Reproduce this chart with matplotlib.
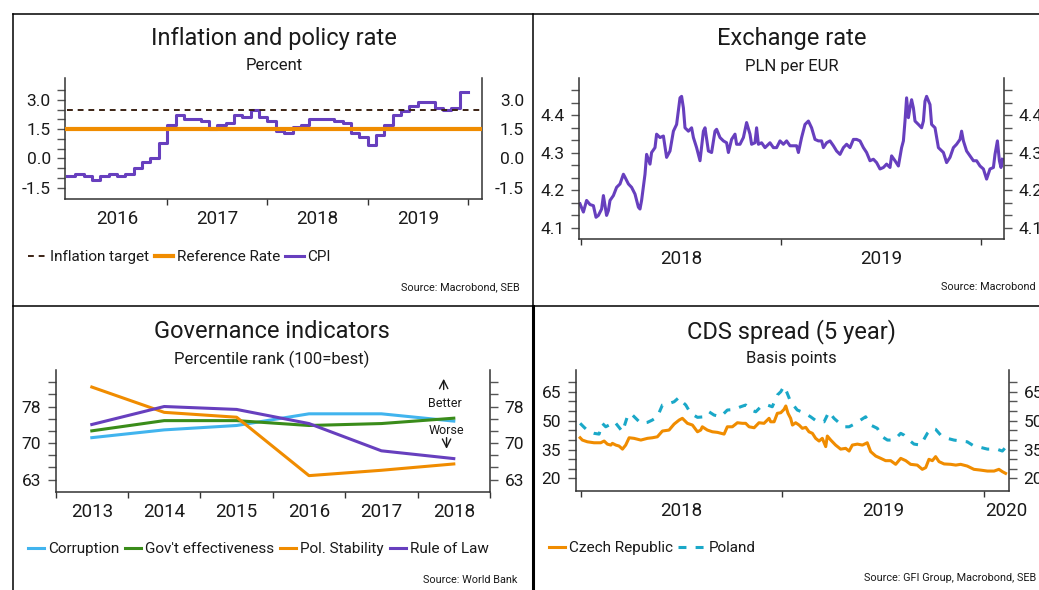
import numpy as np
import matplotlib
matplotlib.use('Agg')
import matplotlib.pyplot as plt
from matplotlib.lines import Line2D
from matplotlib.ticker import FixedLocator, FixedFormatter, NullFormatter

plt.rcParams['font.family'] = ['Roboto', 'DejaVu Sans']

# ---- data ----------------------------------------------------------------
# Inflation (monthly CPI y/y, Jan 2016 - Dec 2019)
cpi = [-0.9, -0.8, -0.9, -1.1, -0.9, -0.8, -0.9, -0.8, -0.5, -0.2, 0.0, 0.8,
       1.7, 2.2, 2.0, 2.0, 1.9, 1.5, 1.7, 1.8, 2.2, 2.1, 2.5, 2.1,
       1.9, 1.4, 1.3, 1.6, 1.7, 2.0, 2.0, 2.0, 1.9, 1.8, 1.3, 1.1,
       0.7, 1.2, 1.7, 2.2, 2.4, 2.7, 2.9, 2.9, 2.6, 2.5, 2.6, 3.4]
policy_x = [2016.0, 2020.12]
inflation_target = [2.5, 2.5]
reference_rate = [1.5, 1.5]

# EUR/PLN
fx_time = [2017.995, 2018.012, 2018.028, 2018.045, 2018.062, 2018.075, 2018.087, 2018.103, 2018.112, 2018.128,
           2018.137, 2018.145, 2018.162, 2018.178, 2018.195, 2018.212, 2018.220, 2018.237, 2018.253, 2018.270,
           2018.287, 2018.295, 2018.303, 2018.320, 2018.328, 2018.345, 2018.353, 2018.370, 2018.378, 2018.395,
           2018.412, 2018.428, 2018.445, 2018.462, 2018.478, 2018.495, 2018.503, 2018.512, 2018.520, 2018.537,
           2018.553, 2018.562, 2018.578, 2018.595, 2018.612, 2018.620, 2018.637, 2018.653, 2018.670, 2018.678,
           2018.695, 2018.712, 2018.728, 2018.737, 2018.753, 2018.770, 2018.778, 2018.795, 2018.812, 2018.828,
           2018.845, 2018.853, 2018.870, 2018.878, 2018.887, 2018.903, 2018.920, 2018.945, 2018.962, 2018.978,
           2018.995, 2019.012, 2019.028, 2019.045, 2019.062, 2019.078, 2019.087, 2019.103, 2019.120, 2019.137,
           2019.153, 2019.170, 2019.187, 2019.203, 2019.212, 2019.228, 2019.245, 2019.262, 2019.278, 2019.295,
           2019.312, 2019.328, 2019.345, 2019.362, 2019.378, 2019.395, 2019.412, 2019.428, 2019.445, 2019.462,
           2019.478, 2019.495, 2019.512, 2019.528, 2019.545, 2019.553, 2019.570, 2019.587, 2019.603, 2019.612,
           2019.620, 2019.628, 2019.637, 2019.645, 2019.653, 2019.662, 2019.670, 2019.687, 2019.703, 2019.712,
           2019.720, 2019.728, 2019.745, 2019.753, 2019.770, 2019.787, 2019.812, 2019.828, 2019.845, 2019.862,
           2019.878, 2019.895, 2019.903, 2019.912, 2019.928, 2019.945, 2019.962, 2019.978, 2019.995, 2020.012,
           2020.028, 2020.045, 2020.062, 2020.070, 2020.082, 2020.092, 2020.100, 2020.107]
fx_rate = [4.164, 4.142, 4.173, 4.162, 4.159, 4.128, 4.133, 4.150, 4.186, 4.133,
           4.146, 4.173, 4.186, 4.208, 4.217, 4.243, 4.235, 4.217, 4.208, 4.190,
           4.155, 4.150, 4.173, 4.243, 4.296, 4.270, 4.301, 4.314, 4.350, 4.341,
           4.345, 4.288, 4.305, 4.358, 4.376, 4.447, 4.451, 4.420, 4.367, 4.358,
           4.367, 4.341, 4.314, 4.279, 4.358, 4.367, 4.305, 4.301, 4.358, 4.363,
           4.341, 4.332, 4.327, 4.301, 4.336, 4.350, 4.323, 4.323, 4.341, 4.381,
           4.350, 4.323, 4.327, 4.367, 4.323, 4.327, 4.314, 4.327, 4.314, 4.314,
           4.332, 4.323, 4.332, 4.319, 4.319, 4.319, 4.301, 4.341, 4.376, 4.385,
           4.367, 4.336, 4.332, 4.332, 4.314, 4.327, 4.332, 4.319, 4.305, 4.296,
           4.314, 4.323, 4.314, 4.336, 4.336, 4.332, 4.314, 4.301, 4.279, 4.283,
           4.274, 4.257, 4.261, 4.270, 4.261, 4.292, 4.279, 4.265, 4.314, 4.332,
           4.385, 4.447, 4.394, 4.420, 4.442, 4.420, 4.385, 4.376, 4.367, 4.385,
           4.438, 4.451, 4.429, 4.376, 4.367, 4.314, 4.301, 4.274, 4.288, 4.314,
           4.323, 4.336, 4.358, 4.332, 4.305, 4.292, 4.279, 4.279, 4.265, 4.257,
           4.230, 4.257, 4.261, 4.296, 4.332, 4.279, 4.261, 4.283]

# Governance indicators, percentile rank
gov_years = ['2013', '2014', '2015', '2016', '2017', '2018']
corruption = [71.1, 72.7, 73.6, 76.0, 76.0, 74.5]
gov_effectiveness = [72.5, 74.6, 74.6, 73.6, 74.0, 75.1]
pol_stability = [81.5, 76.3, 75.3, 63.3, 64.4, 65.7]
rule_of_law = [73.8, 77.5, 76.9, 74.0, 68.4, 66.8]

# CDS spreads, bp
czech_time = [2017.997, 2018.008, 2018.033, 2018.066, 2018.099, 2018.116, 2018.132, 2018.149, 2018.157, 2018.174,
              2018.190, 2018.207, 2018.223, 2018.240, 2018.264, 2018.298, 2018.331, 2018.355, 2018.380, 2018.405,
              2018.438, 2018.463, 2018.488, 2018.504, 2018.529, 2018.554, 2018.579, 2018.595, 2018.603, 2018.628,
              2018.653, 2018.678, 2018.711, 2018.727, 2018.752, 2018.777, 2018.802, 2018.818, 2018.835, 2018.860,
              2018.884, 2018.909, 2018.934, 2018.942, 2018.959, 2018.975, 2018.992, 2019.008, 2019.017, 2019.028,
              2019.041, 2019.050, 2019.066, 2019.083, 2019.099, 2019.116, 2019.132, 2019.149, 2019.165, 2019.182,
              2019.198, 2019.215, 2019.223, 2019.240, 2019.264, 2019.289, 2019.314, 2019.331, 2019.347, 2019.372,
              2019.397, 2019.421, 2019.438, 2019.463, 2019.488, 2019.512, 2019.537, 2019.562, 2019.587, 2019.612,
              2019.636, 2019.669, 2019.694, 2019.711, 2019.727, 2019.744, 2019.760, 2019.777, 2019.802, 2019.835,
              2019.860, 2019.884, 2019.917, 2019.950, 2019.983, 2020.017, 2020.050, 2020.074, 2020.091, 2020.107]
czech = [41.1, 39.9, 39.0, 38.5, 38.5, 39.4, 37.8, 37.3, 38.2, 37.3,
         36.8, 35.2, 37.3, 41.1, 40.8, 39.9, 40.8, 41.1, 41.6, 44.6,
         45.1, 48.2, 50.3, 51.2, 48.6, 47.7, 44.2, 45.1, 46.8, 45.1,
         44.2, 43.9, 43.0, 46.8, 46.8, 48.9, 48.6, 48.6, 46.8, 46.3,
         48.9, 48.6, 51.2, 49.4, 49.4, 53.8, 54.1, 55.8, 57.6, 53.8,
         51.2, 47.7, 48.9, 47.7, 46.0, 46.5, 44.2, 43.4, 40.8, 39.4,
         40.8, 36.5, 42.0, 39.9, 37.3, 35.2, 35.6, 34.2, 37.3, 37.8,
         37.3, 38.5, 33.9, 31.6, 30.4, 29.2, 29.2, 27.3, 30.4, 29.2,
         27.3, 26.9, 24.7, 25.6, 29.9, 29.2, 31.3, 28.7, 27.5, 27.3,
         26.9, 27.3, 26.4, 24.7, 24.3, 23.8, 23.8, 24.7, 23.5, 22.6]
poland_time = [2017.997, 2018.017, 2018.041, 2018.066, 2018.091, 2018.107, 2018.124, 2018.140, 2018.157, 2018.174,
               2018.190, 2018.207, 2018.231, 2018.248, 2018.273, 2018.298, 2018.331, 2018.355, 2018.380, 2018.405,
               2018.438, 2018.463, 2018.488, 2018.504, 2018.521, 2018.545, 2018.579, 2018.612, 2018.636, 2018.661,
               2018.694, 2018.727, 2018.760, 2018.793, 2018.818, 2018.843, 2018.868, 2018.893, 2018.926, 2018.950,
               2018.975, 2018.992, 2019.008, 2019.021, 2019.041, 2019.074, 2019.107, 2019.140, 2019.174, 2019.207,
               2019.231, 2019.256, 2019.281, 2019.306, 2019.331, 2019.364, 2019.388, 2019.413, 2019.438, 2019.471,
               2019.496, 2019.521, 2019.554, 2019.587, 2019.603, 2019.628, 2019.653, 2019.686, 2019.719, 2019.744,
               2019.760, 2019.785, 2019.818, 2019.851, 2019.884, 2019.917, 2019.950, 2019.983, 2020.017, 2020.041,
               2020.066, 2020.091, 2020.107]
poland = [48.6, 46.5, 44.2, 43.4, 43.0, 48.6, 46.8, 47.7, 46.8, 48.6,
          46.5, 44.2, 52.0, 53.8, 51.2, 48.6, 49.1, 50.3, 52.0, 58.1,
          58.9, 59.8, 62.1, 59.8, 58.1, 53.8, 51.7, 52.0, 54.6, 52.9,
          52.0, 55.5, 55.8, 57.2, 58.1, 55.5, 54.6, 57.2, 58.1, 57.2,
          63.3, 65.0, 67.9, 65.0, 59.8, 55.5, 54.1, 52.0, 49.4, 49.4,
          54.6, 51.2, 48.9, 46.8, 46.8, 48.6, 50.3, 52.0, 47.7, 46.0,
          41.6, 39.9, 39.9, 43.4, 42.5, 39.9, 37.8, 37.3, 43.4, 46.0,
          45.5, 42.5, 40.8, 39.9, 39.4, 39.0, 36.8, 36.1, 35.2, 35.2,
          35.1, 34.2, 36.1]

# ---- style ---------------------------------------------------------------
PURPLE = '#673fbe'
ORANGE = '#f08c00'
BROWN = '#3b2314'
BLUE = '#41b4ee'
GREEN = '#3a8c1a'
CYAN = '#1aa8c8'
TXT = '#1a1a1a'
SPINE = '#333333'
TICK = '#555555'
LEG = 11

W, H = 1039, 590
fig = plt.figure(figsize=(W / 100, H / 100), dpi=100)


def fx(x):
    return x / W


def fy(y):
    return 1 - y / H


def box(x0, y0, x1, y1):
    return fig.add_axes([fx(x0), fy(y1), (x1 - x0) / W, (y1 - y0) / H])


def frame(ax):
    ax.spines['top'].set_visible(False)
    for s in ('left', 'right', 'bottom'):
        ax.spines[s].set_color(SPINE)
        ax.spines[s].set_linewidth(1.1)


def y_axis(ax, lim, major, labels, minor, right_labels=True):
    ax.set_ylim(*lim)
    ax.yaxis.set_major_locator(FixedLocator(major))
    ax.yaxis.set_major_formatter(FixedFormatter(labels))
    ax.yaxis.set_minor_locator(FixedLocator(minor))
    ax.tick_params(axis='y', which='both', left=True, right=True, labelleft=True,
                   labelright=right_labels, direction='out', length=6, width=1,
                   color=TICK, pad=4.5, labelsize=12.5, labelcolor=TXT)


def x_axis(ax, lim, major, mid, labels):
    ax.set_xlim(*lim)
    ax.xaxis.set_major_locator(FixedLocator(major))
    ax.xaxis.set_major_formatter(NullFormatter())
    ax.xaxis.set_minor_locator(FixedLocator(mid))
    ax.xaxis.set_minor_formatter(FixedFormatter(labels))
    ax.tick_params(axis='x', which='major', direction='out', length=4.5, width=1, color=SPINE)
    ax.tick_params(axis='x', which='minor', length=0, pad=8, labelsize=13.5, labelcolor=TXT)


def heading(x, y_title, y_sub, title, sub):
    fig.text(fx(x), fy(y_title), title, ha='center', va='center', fontsize=17, color=TXT)
    fig.text(fx(x), fy(y_sub), sub, ha='center', va='center', fontsize=12, color=TXT)


def source(x, y, text):
    fig.text(fx(x), fy(y), text, ha='right', va='center', fontsize=7.8, color=TXT)


# ---- panel borders -------------------------------------------------------
for (x0, y0, x1, y1, lw) in [(13, 14, 1039, 14, 1.1), (13, 14, 13, 590, 1.1),
                             (13, 305.7, 1039, 305.7, 1.1), (533.3, 14, 533.3, 305.7, 1.1),
                             (532.5, 305.7, 532.5, 590, 2.2)]:
    fig.add_artist(Line2D([fx(x0), fx(x1)], [fy(y0), fy(y1)], color='black', lw=lw))

# ---- inflation and policy rate -------------------------------------------
ax1 = box(65.4, 78.3, 481.7, 199.3)
frame(ax1)
cpi_x = 2016 + np.arange(len(cpi) + 1) / 12
ax1.plot(cpi_x, cpi + [cpi[-1]], drawstyle='steps-post', color=PURPLE, lw=2.2, zorder=2, label='CPI')
ax1.plot(policy_x, inflation_target, color=BROWN, lw=1.4, dashes=(3, 2.5), zorder=3, label='Inflation target')
ax1.plot(policy_x, reference_rate, color=ORANGE, lw=3, zorder=4, label='Reference Rate')
y_axis(ax1, (-2.1, 4.1), [-1.5, 0, 1.5, 3.0], ['-1.5', '0.0', '1.5', '3.0'],
       list(np.arange(-1.5, 3.6, 0.5)), right_labels=False)
x_axis(ax1, (2015.985, 2020.137), [2017, 2018, 2019, 2020],
       [2016.5, 2017.5, 2018.5, 2019.5], ['2016', '2017', '2018', '2019'])
# right-hand labels are right aligned on their own axis
ax1r = ax1.twinx()
ax1r.set_ylim(ax1.get_ylim())
ax1r.yaxis.set_major_locator(FixedLocator([-1.5, 0, 1.5, 3.0]))
ax1r.yaxis.set_major_formatter(FixedFormatter(['-1.5', '0.0', '1.5', '3.0']))
ax1r.tick_params(axis='y', which='both', length=0, pad=30.5, labelsize=12.5, labelcolor=TXT)
for s in ax1r.spines.values():
    s.set_visible(False)
for lab in ax1r.get_yticklabels():
    lab.set_horizontalalignment('right')
heading(274, 39, 66, 'Inflation and policy rate', 'Percent')
h = {l.get_label(): l for l in ax1.get_lines()}
fig.legend([h['Inflation target'], h['Reference Rate'], h['CPI']],
           ['Inflation target', 'Reference Rate', 'CPI'], loc='center left',
           bbox_to_anchor=(fx(28), fy(257)), frameon=False, ncol=3, fontsize=LEG,
           handlelength=1.2, handletextpad=0.25, columnspacing=0.35,
           borderaxespad=0, borderpad=0, labelcolor=TXT)
source(520, 287, 'Source: Macrobond, SEB')

# ---- exchange rate -------------------------------------------------------
ax2 = box(579, 78, 1004, 239)
frame(ax2)
ax2.plot(fx_time, fx_rate, color=PURPLE, lw=2.2)
y_axis(ax2, (4.07, 4.5), [4.1, 4.2, 4.3, 4.4], ['4.1', '4.2', '4.3', '4.4'],
       [4.1 + i / 30 for i in range(12)])
x_axis(ax2, (2017.99, 2020.115), [2018, 2019, 2020], [2018.5, 2019.5], ['2018', '2019'])
heading(791.7, 39, 66, 'Exchange rate', 'PLN per EUR')
source(1036, 287, 'Source: Macrobond')

# ---- governance indicators -----------------------------------------------
ax3 = box(55.6, 370, 490, 491.7)
frame(ax3)
idx = np.arange(len(gov_years))
gov = [('Corruption', corruption, BLUE), ("Gov't effectiveness", gov_effectiveness, GREEN),
       ('Pol. Stability', pol_stability, ORANGE), ('Rule of Law', rule_of_law, PURPLE)]
lines = []
for name, vals, col in gov:
    lines += ax3.plot(idx, vals, color=col, lw=2.2, label=name)
y_axis(ax3, (60, 85), [62.5, 70, 77.5], ['63', '70', '78'], list(np.arange(62.5, 83, 2.5)))
x_axis(ax3, (-0.5, 5.5), list(np.arange(-0.5, 5.6, 1)), list(idx), gov_years)
ax3.text(4.87, 78.06, 'Better', ha='center', va='center', fontsize=9, color=TXT)
ax3.text(4.9, 72.55, 'Worse', ha='center', va='center', fontsize=9, color=TXT)
arrow = dict(arrowstyle='->', lw=1.0, color=TXT, shrinkA=0, shrinkB=0, mutation_scale=15)
ax3.annotate('', xy=(4.86, 83.2), xytext=(4.86, 81.0), arrowprops=arrow)
ax3.annotate('', xy=(4.9, 68.8), xytext=(4.9, 71.1), arrowprops=arrow)
heading(272, 331.7, 359, 'Governance indicators', 'Percentile rank (100=best)')
fig.legend(lines, [g[0] for g in gov], loc='center left', bbox_to_anchor=(fx(28), fy(549)),
           frameon=False, ncol=4, fontsize=LEG, handlelength=1.05, handletextpad=0.25,
           columnspacing=0.4, borderaxespad=0, borderpad=0, labelcolor=TXT)
source(517, 580, 'Source: World Bank')

# ---- CDS spread ----------------------------------------------------------
ax4 = box(575.7, 370, 1009, 490.7)
frame(ax4)
cz_line, = ax4.plot(czech_time, czech, color=ORANGE, lw=2.2)
pl_line, = ax4.plot(poland_time, poland, color=CYAN, lw=2.2, dashes=(2.6, 3.0))
y_axis(ax4, (13.6, 76.3), [20, 35, 50, 65], ['20', '35', '50', '65'], list(range(20, 71, 5)))
x_axis(ax4, (2017.975, 2020.124), [2018, 2019, 2020], [2018.5, 2019.5, 2020.11],
       ['2018', '2019', '2020'])
heading(791.7, 332, 359, 'CDS spread (5 year)', 'Basis points')
fig.legend([cz_line], ['Czech Republic'], loc='center left', bbox_to_anchor=(fx(549), fy(548)),
           frameon=False, fontsize=LEG, handlelength=1.05, handletextpad=0.25,
           borderaxespad=0, borderpad=0, labelcolor=TXT)
fig.legend([pl_line], ['Poland'], loc='center left', bbox_to_anchor=(fx(678), fy(548)),
           frameon=False, fontsize=LEG, handlelength=1.75, handletextpad=0.25,
           borderaxespad=0, borderpad=0, labelcolor=TXT)
source(1036, 578, 'Source: GFI Group, Macrobond, SEB')

fig.savefig('out.png', dpi=100)
